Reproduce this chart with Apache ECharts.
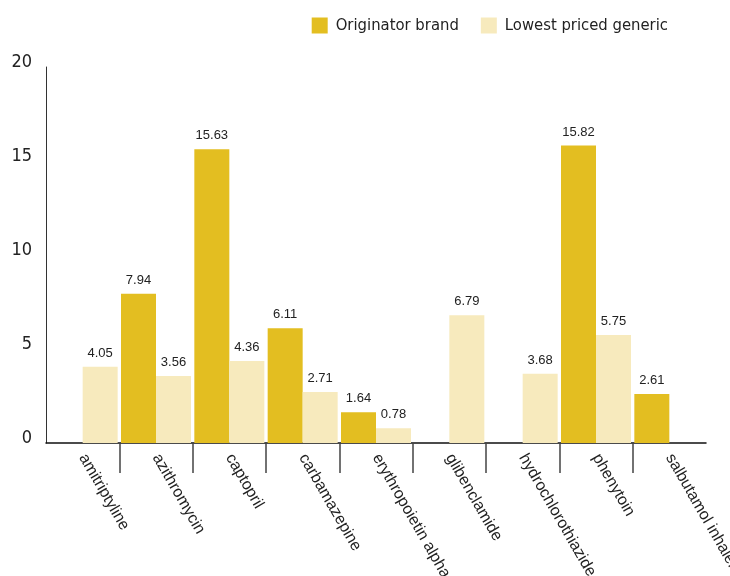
<!DOCTYPE html>
<html><head><meta charset="utf-8">
<script src="https://cdn.jsdelivr.net/npm/echarts@6/dist/echarts.min.js"></script>
<style>html,body{margin:0;padding:0;background:#fff}#c{width:730px;height:576px}</style>
</head><body><div id="c"></div>
<script>
const categories = ['amitriptyline','azithromycin','captopril','carbamazepine','erythropoietin alpha','glibenclamide','hydrochlorothiazide','phenytoin','salbutamol inhaler'];
const originatorBrand = [null, 7.94, 15.63, 6.11, 1.64, null, null, 15.82, 2.61];
const lowestGeneric = [4.05, 3.56, 4.36, 2.71, 0.78, 6.79, 3.68, 5.75, null];
const yTicks = [0, 5, 10, 15, 20];
const boundaries = categories.map(() => '').concat(['']);

const chart = echarts.init(document.getElementById('c'));
const condensed = '"DejaVu Sans Condensed", "Roboto Condensed", Roboto, sans-serif';
const labelStyle = {show: true, position: 'top', distance: 7, fontFamily: 'Liberation Sans', fontSize: 13, color: '#222', formatter: p => p.value.toFixed(2)};
chart.setOption({
  animation: false,
  legend: {
    top: 12, right: 57, itemWidth: 16, itemHeight: 16, itemGap: 22,
    icon: 'rect',
    textStyle: {fontFamily: condensed, fontSize: 16.5, color: '#222', padding: [0, 0, 0, 3]},
    data: ['Originator brand', 'Lowest priced generic']
  },
  grid: {left: 46, right: 24, top: 67, bottom: 133, outerBoundsMode: 'none', containLabel: false},
  xAxis: [{
    type: 'category', data: categories,
    axisLine: {lineStyle: {color: '#111', width: 1.5}},
    axisTick: {show: false},
    axisLabel: {rotate: -60, margin: 12, fontFamily: 'Liberation Sans', fontSize: 16, color: '#222', interval: 0}
  }, {
    type: 'category', data: boundaries, boundaryGap: false, position: 'bottom',
    axisLine: {show: false},
    axisLabel: {show: false},
    axisTick: {show: true, length: 30, lineStyle: {color: '#444', width: 1.5}, interval: (i) => i > 0 && i < categories.length}
  }],
  yAxis: {
    type: 'value', min: yTicks[0], max: yTicks[yTicks.length-1], interval: 5,
    axisLine: {show: true, lineStyle: {color: '#333', width: 1}},
    axisTick: {show: false},
    splitLine: {show: false},
    axisLabel: {margin: 14, fontFamily: condensed, fontSize: 18, color: '#222', verticalAlign: 'bottom', lineHeight: 10}
  },
  series: [
    {name: 'Originator brand', type: 'bar', data: originatorBrand, barWidth: 35, barGap: '0%', itemStyle: {color: '#E3BE21'}, label: labelStyle},
    {name: 'Lowest priced generic', type: 'bar', data: lowestGeneric, barWidth: 35, barGap: '0%', itemStyle: {color: '#F7EABD'}, label: labelStyle}
  ]
});
</script></body></html>
